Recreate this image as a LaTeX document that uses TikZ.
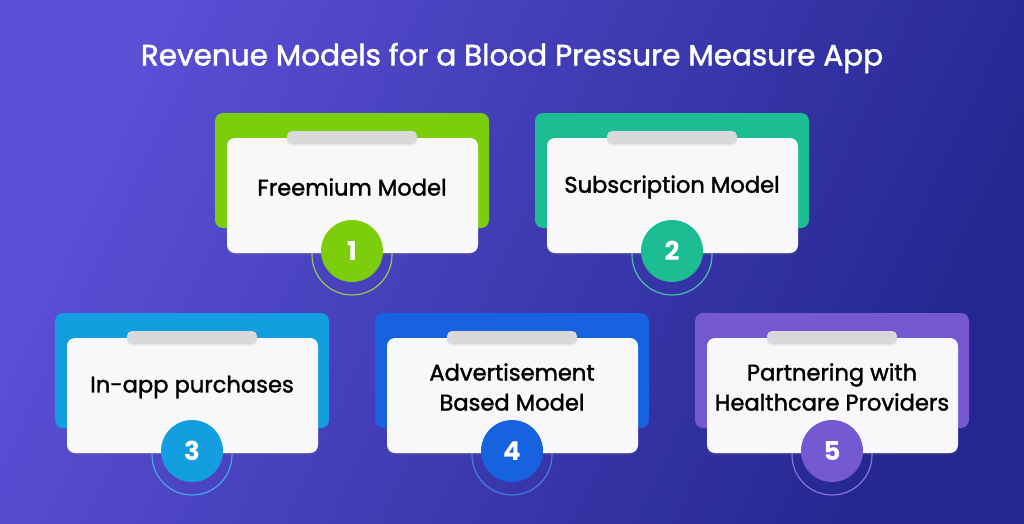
\documentclass[tikz,border=0pt]{standalone}
\usepackage{fontspec}
\setmainfont{Poppins}
\newfontfamily\medfont{Poppins}[FakeBold=1.6]
\usetikzlibrary{shadows}
\definecolor{bgA}{HTML}{5B4FD6}
\definecolor{bgB}{HTML}{23278F}
\definecolor{cgreen}{HTML}{7CCE0C}
\definecolor{cteal}{HTML}{1CBD93}
\definecolor{cblue}{HTML}{129EDF}
\definecolor{croyal}{HTML}{1763DF}
\definecolor{cpurple}{HTML}{7459D2}
\definecolor{tabgray}{HTML}{D8D8DA}
\definecolor{cardwhite}{HTML}{F8F8FA}
\tikzset{
  cardbox/.style={fill=cardwhite, rounded corners=8, minimum width=251, minimum height=115, inner sep=0,
    drop shadow={shadow xshift=0pt, shadow yshift=-2pt, opacity=0.18}},
  tabbox/.style={fill=tabgray, rounded corners=5, minimum width=130, minimum height=13, inner sep=0,
    drop shadow={shadow xshift=0pt, shadow yshift=-1.5pt, opacity=0.12}},
  cardtext/.style={align=center, text=black, font=\medfont\fontsize{22.6}{30}\selectfont},
  numdisc/.style={circle, minimum size=62, inner sep=0, text=white, font=\bfseries\fontsize{26}{26}\selectfont},
}
\newcommand\revcard[6]{%
  \begin{scope}[shift={(#2,#3)}]
    \fill[#4, rounded corners=8] (215,113) rectangle (489,228);
    \draw[#4!80!white, line width=1.1] (352,255) circle (40);
    \node[cardbox] (#1) at (352.5,195.5) {};
    \node[tabbox] (#1-tab) at (352,137.5) {};
    \node[cardtext] (#1-text) at (352,187) {#6};
    \node[numdisc, fill=#4] (#1-num) at (352,251) {#5};
  \end{scope}}
\begin{document}
\begin{tikzpicture}[x=1pt,y=-1pt]
  \useasboundingbox (0,0) rectangle (1024,523);
  \shade[shading=axis, left color=bgA, right color=bgB, shading angle=65] (0,0) rectangle (1024,523);
  \node[text=white, font=\medfont\fontsize{29.5}{34}\selectfont] (title) at (512,58) {Revenue Models for a Blood Pressure Measure App};
  \revcard{c1}{0}{0}{cgreen}{1}{Freemium Model}
  \revcard{c2}{320}{0}{cteal}{2}{Subscription Model}
  \revcard{c3}{-160}{200}{cblue}{3}{In-app purchases}
  \revcard{c4}{160}{200}{croyal}{4}{Advertisement\\Based Model}
  \revcard{c5}{480}{200}{cpurple}{5}{Partnering with\\Healthcare Providers}
\end{tikzpicture}
\end{document}
